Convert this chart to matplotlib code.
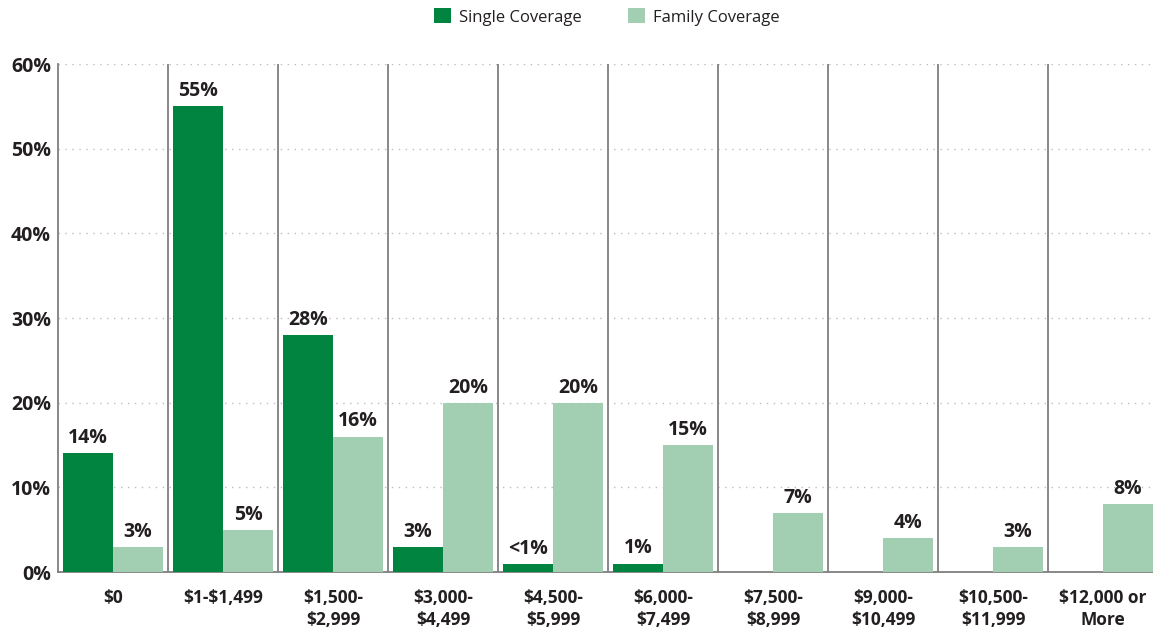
import numpy as np
import matplotlib.pyplot as plt

##---------------- data ----------------
categories = ['$0', '$1-$1,499', '$1,500-\n$2,999', '$3,000-\n$4,499', '$4,500-\n$5,999',
              '$6,000-\n$7,499', '$7,500-\n$8,999', '$9,000-\n$10,499', '$10,500-\n$11,999',
              '$12,000 or\nMore']
single_vals = [14, 55, 28, 3, 0.9, 1, 0, 0, 0, 0]
single_labels = ['14%', '55%', '28%', '3%', '<1%', '1%', '', '', '', '']
family_vals = [3, 5, 16, 20, 20, 15, 7, 4, 3, 8]
family_labels = ['3%', '5%', '16%', '20%', '20%', '15%', '7%', '4%', '3%', '8%']
yticks = [0, 10, 20, 30, 40, 50, 60]

dark_green = '#00843F'
light_green = '#A2CEB1'
text_col = '#231F20'

plt.rcParams['font.family'] = ['Open Sans', 'DejaVu Sans']
plt.rcParams['text.parse_math'] = False   # dollar signs are literal

fig = plt.figure(figsize=(11.53, 6.3), dpi=100)
ax = fig.add_axes([58 / 1153, 58 / 630, 1100 / 1153, 508 / 630])

x = np.arange(len(categories))
w = 50 / 110
b1 = ax.bar(x - w / 2, single_vals, width=w, color=dark_green, label='Single Coverage', zorder=3)
b2 = ax.bar(x + w / 2, family_vals, width=w, color=light_green, label='Family Coverage', zorder=3)

# value labels above the bars
for rect, lab in zip(b1, single_labels):
    if lab:
        ax.text(rect.get_x() + rect.get_width() / 2, rect.get_height() + 0.6, lab,
                ha='center', va='bottom', fontsize=14, fontweight='bold', color=text_col)
for rect, lab in zip(b2, family_labels):
    ax.text(rect.get_x() + rect.get_width() / 2, rect.get_height() + 0.6, lab,
            ha='center', va='bottom', fontsize=14, fontweight='bold', color=text_col)

# separators between groups
for s in np.arange(0.5, len(categories) - 1, 1.0):
    ax.axvline(s, color='#7f7f7f', lw=1.3, zorder=2)

ax.set_xlim(-0.5, len(categories) - 0.5)
ax.set_ylim(0, 60)
ax.set_yticks(yticks)
ax.set_yticklabels([f'{t}%' for t in yticks], fontsize=14, fontweight='bold', color=text_col)
ax.set_xticks(x)
ax.set_xticklabels(categories, fontsize=12.5, fontweight='bold', color=text_col, linespacing=1.3)
ax.tick_params(axis='both', length=0)
ax.tick_params(axis='x', pad=12)
ax.tick_params(axis='y', pad=5)
ax.yaxis.grid(True, linestyle=(0, (1, 4)), color='#bdbdbd', lw=1, zorder=0)

for side in ['top', 'right']:
    ax.spines[side].set_visible(False)
ax.spines['left'].set_color('#7f7f7f')
ax.spines['left'].set_linewidth(1.3)
ax.spines['bottom'].set_color('#7f7f7f')
ax.spines['bottom'].set_linewidth(1.3)

fig.legend(handles=[b1, b2], loc='center', bbox_to_anchor=(607 / 1153, 1 - 17 / 630), ncol=2,
           frameon=False, fontsize=12, handlelength=1.0, handleheight=1.0,
           columnspacing=2.8, handletextpad=0.5, labelcolor=text_col)

fig.savefig('out.png', dpi=100)
